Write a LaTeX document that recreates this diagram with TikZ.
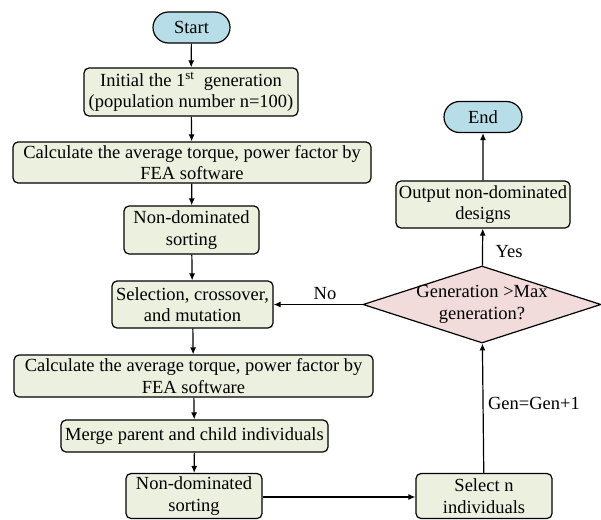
\documentclass[tikz,border=0pt]{standalone}
\usepackage{fontspec}
\setmainfont{Liberation Serif}
\usetikzlibrary{shapes.geometric,shapes.misc,arrows.meta}
\definecolor{boxgreen}{HTML}{EBF1DE}
\definecolor{termblue}{HTML}{B7DEE8}
\definecolor{diapink}{HTML}{F2DCDB}
\begin{document}
\begin{tikzpicture}[x=1pt,y=-1pt,
  font=\fontsize{18.5}{21.5}\selectfont,
  base/.style={draw=black,line width=1.2pt,align=center,inner sep=1pt},
  procbox/.style={base,rectangle,rounded corners=5pt,fill=boxgreen},
  termbox/.style={base,rounded rectangle,fill=termblue},
  decbox/.style={base,diamond,fill=diapink,aspect=3.1,inner sep=-20pt},
  flow/.style={line width=1.2pt,-{Latex[length=7pt,width=6pt]}},
  lbl/.style={inner sep=1pt}]
\useasboundingbox (0,0) rectangle (601,519);
\node[termbox,minimum width=79pt,minimum height=31pt] (start) at (191.5,27.5) {Start};
\node[procbox,minimum width=214pt,minimum height=48pt] (init) at (191,92) {Initial the 1\textsuperscript{st}\ \ generation\\(population number n=100)};
\node[procbox,minimum width=358pt,minimum height=41pt] (calc1) at (192,162.5) {Calculate the average torque, power factor by\\FEA software};
\node[procbox,minimum width=135pt,minimum height=48pt] (nds1) at (191.5,230) {Non-dominated\\sorting};
\node[procbox,minimum width=161pt,minimum height=47pt] (sel) at (192.5,304.5) {Selection, crossover,\\and mutation};
\node[procbox,minimum width=359pt,minimum height=42pt] (calc2) at (193.5,376) {Calculate the average torque, power factor by\\FEA software};
\node[procbox,minimum width=267pt,minimum height=32pt] (merge) at (194.5,436) {Merge parent and child individuals};
\node[procbox,minimum width=136pt,minimum height=45pt] (nds2) at (194,496) {Non-dominated\\sorting};
\node[procbox,minimum width=136pt,minimum height=45pt] (selectn) at (484,496) {Select n\\individuals};
\node[decbox,minimum width=238pt,minimum height=77pt] (dec) at (482,304.5) {Generation >Max\\generation?};
\node[procbox,minimum width=174pt,minimum height=47pt] (out) at (483,204.5) {Output non-dominated\\designs};
\node[termbox,minimum width=80pt,minimum height=31pt] (end) at (483,117) {End};
\draw[flow] (start) -- (init);
\draw[flow] (init) -- (calc1);
\draw[flow] (calc1) -- (nds1);
\draw[flow] (nds1) -- (sel);
\draw[flow] (sel) -- (calc2);
\draw[flow] (calc2) -- (merge);
\draw[flow] (merge) -- (nds2);
\draw[flow] (nds2.east |- 0,497) -- (selectn.west |- 0,497);
\draw[flow] (selectn) -- (dec);
\draw[flow] (dec) -- (out);
\draw[flow] (out) -- (end);
\draw[flow] (dec.west) -- (sel.east |- dec.west);
\node[lbl] (no) at (325,294) {No};
\node[lbl] (yes) at (509,252) {Yes};
\node[lbl] (gen) at (534,403) {Gen=Gen+1};
\end{tikzpicture}
\end{document}
